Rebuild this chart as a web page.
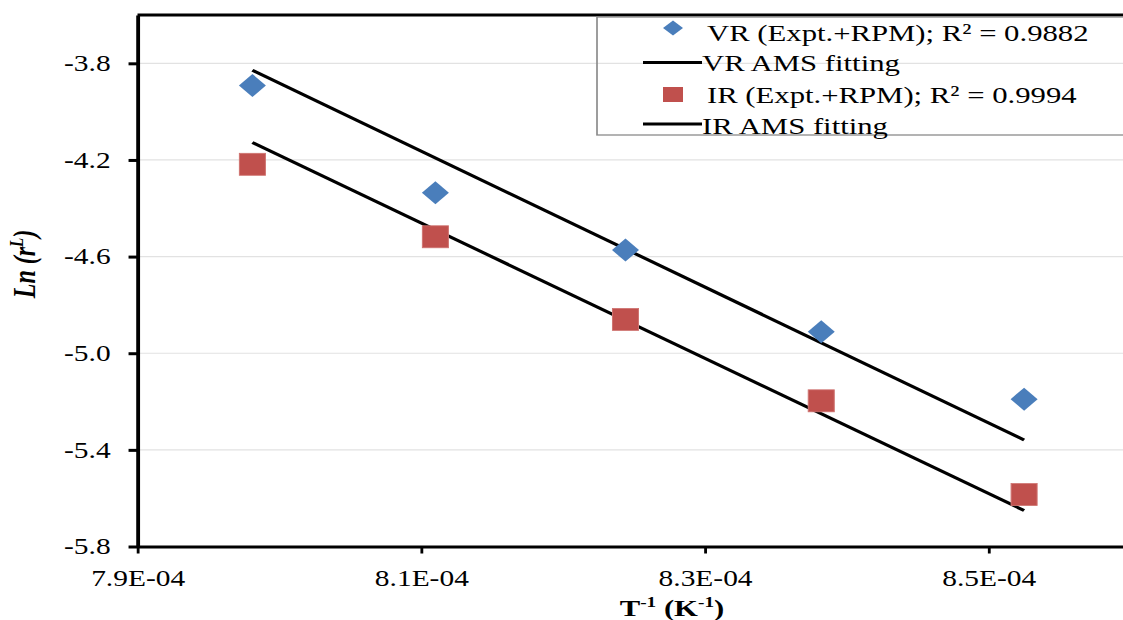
<!DOCTYPE html>
<html>
<head>
<meta charset="utf-8">
<script src="https://cdn.jsdelivr.net/npm/d3@7"></script>
<style>
  html, body { margin: 0; padding: 0; background: #fff; }
  svg { display: block; }
  text { font-family: "Liberation Serif", "Times New Roman", serif; fill: #000; }
</style>
</head>
<body>
<div id="chart"></div>
<script>
// values
let invT = [7.981e-4, 8.110e-4, 8.244e-4, 8.382e-4, 8.525e-4]
let vrLn = [-3.892, -4.336, -4.573, -4.911, -5.190]
let irLn = [-4.218, -4.518, -4.860, -5.197, -5.585]

// fitted line end points
let fitX = [7.981e-4, 8.525e-4]
let vrFit = [-3.829, -5.359]
let irFit = [-4.128, -5.651]

let xTicks = [7.9e-4, 8.1e-4, 8.3e-4, 8.5e-4]
let xTickLabels = ['7.9E-04', '8.1E-04', '8.3E-04', '8.5E-04']
let yTicks = [-3.8, -4.2, -4.6, -5.0, -5.4, -5.8]

let legendLabels = [
  'VR (Expt.+RPM); R² = 0.9882',
  'VR AMS fitting',
  'IR (Expt.+RPM); R² = 0.9994',
  'IR AMS fitting'
]

// the original picture is stretched sideways, so draw in a narrower
// box and let the viewBox stretch it
let SX = 1.28
let W = 1123
let H = 620
let vw = W / SX

let svg = d3
  .select('#chart')
  .append('svg')
  .attr('width', W)
  .attr('height', H)
  .attr('viewBox', `0 0 ${vw} ${H}`)
  .attr('preserveAspectRatio', 'none')

let xPositionScale = d3
  .scaleLinear()
  .domain([7.9e-4, 8.6e-4])
  .range([137.5 / SX, 1130.5 / SX])

let yPositionScale = d3
  .scaleLinear()
  .domain([-5.8, -3.6])
  .range([546.5, 15])

let left = xPositionScale.range()[0]

// gridlines
svg
  .append('g')
  .selectAll('line')
  .data(yTicks.slice(0, -1))
  .enter()
  .append('line')
  .attr('x1', left)
  .attr('x2', vw)
  .attr('y1', d => yPositionScale(d))
  .attr('y2', d => yPositionScale(d))
  .attr('stroke', '#e2e2e2')
  .attr('stroke-width', 1.2)

// top border
svg
  .append('line')
  .attr('x1', left)
  .attr('x2', vw)
  .attr('y1', yPositionScale(-3.6))
  .attr('y2', yPositionScale(-3.6))
  .attr('stroke', '#000')
  .attr('stroke-width', 3)

// axes
let yAxis = d3
  .axisLeft(yPositionScale)
  .tickValues(yTicks)
  .tickSizeInner(7)
  .tickSizeOuter(0)
  .tickPadding(14)
  .tickFormat(d => d.toFixed(1))

svg
  .append('g')
  .attr('class', 'axis y-axis')
  .attr('transform', `translate(${left},0)`)
  .call(yAxis)

let xAxis = d3
  .axisBottom(xPositionScale)
  .tickValues(xTicks)
  .tickSizeInner(7)
  .tickSizeOuter(0)
  .tickPadding(16)
  .tickFormat((d, i) => xTickLabels[i])

svg
  .append('g')
  .attr('class', 'axis x-axis')
  .attr('transform', `translate(0,${yPositionScale(-5.8)})`)
  .call(xAxis)

svg.selectAll('.axis .domain').attr('stroke', '#000').attr('stroke-width', 3)
svg.selectAll('.y-axis .tick line').attr('stroke', '#000').attr('stroke-width', 3)
svg.selectAll('.x-axis .tick line').attr('stroke', '#000').attr('stroke-width', 2.2)
svg
  .selectAll('.axis .tick text')
  .attr('font-size', 23)
  .attr('font-family', '"Liberation Serif", serif')
  .attr('fill', '#000')

// fitted lines
let line = d3
  .line()
  .x(d => xPositionScale(d[0]))
  .y(d => yPositionScale(d[1]))

;[vrFit, irFit].forEach(fit => {
  svg
    .append('path')
    .datum(d3.zip(fitX, fit))
    .attr('d', line)
    .attr('fill', 'none')
    .attr('stroke', '#000')
    .attr('stroke-width', 3)
})

// marker shapes
function diamond(cx, cy, hw, hh) {
  return `M${cx},${cy - hh}L${cx + hw},${cy}L${cx},${cy + hh}L${cx - hw},${cy}Z`
}

svg
  .append('g')
  .selectAll('path')
  .data(d3.zip(invT, vrLn))
  .enter()
  .append('path')
  .attr('d', d => diamond(xPositionScale(d[0]), yPositionScale(d[1]), 13.5 / SX, 11.5))
  .attr('fill', '#4a7ebb')

svg
  .append('g')
  .selectAll('rect')
  .data(d3.zip(invT, irLn))
  .enter()
  .append('rect')
  .attr('x', d => xPositionScale(d[0]) - 13 / SX)
  .attr('y', d => yPositionScale(d[1]) - 11)
  .attr('width', 26 / SX)
  .attr('height', 22)
  .attr('fill', '#c0504d')
  .attr('stroke', '#cf7471')
  .attr('stroke-width', 0.8)

// legend
let legend = svg.append('g').attr('class', 'legend')

legend
  .append('rect')
  .attr('x', 597 / SX)
  .attr('y', 17)
  .attr('width', (1140 - 597) / SX)
  .attr('height', 118)
  .attr('fill', 'none')
  .attr('stroke', '#8a8a8a')
  .attr('stroke-width', 1.3)

let rowY = [41, 71, 103, 134]

legend
  .append('path')
  .attr('d', diamond(673 / SX, 28, 10 / SX, 7.5))
  .attr('fill', '#4a7ebb')

legend
  .append('rect')
  .attr('x', 663 / SX)
  .attr('y', 87)
  .attr('width', 20 / SX)
  .attr('height', 15)
  .attr('fill', '#c0504d')

;[62.5, 124].forEach(ly => {
  legend
    .append('line')
    .attr('x1', 643 / SX)
    .attr('x2', 702 / SX)
    .attr('y1', ly)
    .attr('y2', ly)
    .attr('stroke', '#000')
    .attr('stroke-width', 3)
})

legend
  .selectAll('.legend-label')
  .data(legendLabels)
  .enter()
  .append('text')
  .attr('class', 'legend-label')
  .attr('x', (d, i) => (i % 2 === 0 ? 707 : 702) / SX)
  .attr('y', (d, i) => rowY[i])
  .attr('font-size', 24)
  .text(d => d)

// axis titles
let xTitle = svg
  .append('text')
  .attr('x', 672 / SX)
  .attr('y', 616)
  .attr('text-anchor', 'middle')
  .attr('font-size', 24)
  .attr('font-weight', 'bold')

xTitle.append('tspan').text('T')
xTitle.append('tspan').attr('dy', -9).attr('font-size', 15).text('-1')
xTitle.append('tspan').attr('dy', 9).text(' (K')
xTitle.append('tspan').attr('dy', -9).attr('font-size', 15).text('-1')
xTitle.append('tspan').attr('dy', 9).text(')')

let yTitle = svg
  .append('text')
  .attr('transform', `translate(${35 / SX},264) rotate(-90)`)
  .attr('text-anchor', 'middle')
  .attr('font-size', 24)
  .attr('font-weight', 'bold')
  .attr('font-style', 'italic')

yTitle.append('tspan').text('Ln')
yTitle.append('tspan').text(' (r')
yTitle.append('tspan').attr('dy', -9).attr('font-size', 15).text('L')
yTitle.append('tspan').attr('dy', 9).text(')')
</script>
</body>
</html>
